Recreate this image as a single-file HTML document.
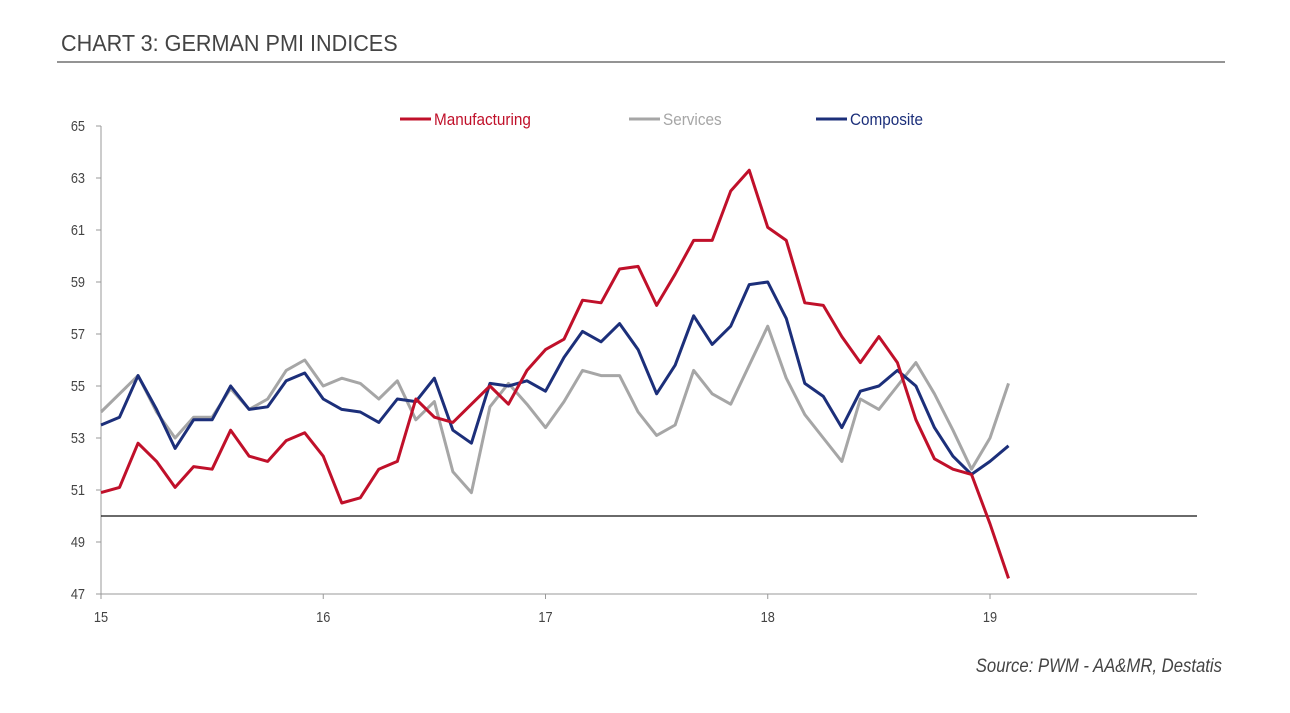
<!DOCTYPE html>
<html><head><meta charset="utf-8"><style>
body{margin:0;background:#fff;width:1290px;height:708px;overflow:hidden;font-family:"Liberation Sans",sans-serif}
svg text{font-family:"Liberation Sans",sans-serif}
</style></head><body>
<svg id="c" width="1290" height="708">
<text x="61" y="51" font-size="23" fill="#444" transform="translate(61,0) scale(0.94,1) translate(-61,0)">CHART 3: GERMAN PMI INDICES</text>
<line x1="57" y1="62" x2="1225" y2="62" stroke="#555" stroke-width="1.2"/>
<text x="1222" y="672" font-size="19" font-style="italic" fill="#444" text-anchor="end" transform="translate(1222,0) scale(0.88,1) translate(-1222,0)">Source: PWM - AA&amp;MR, Destatis</text>
</svg>
<script>
const years=["15","16","17","18","19"];
const yTicks=[47,49,51,53,55,57,59,61,63,65];
const manufacturing=[50.9,51.1,52.8,52.1,51.1,51.9,51.8,53.3,52.3,52.1,52.9,53.2,52.3,50.5,50.7,51.8,52.1,54.5,53.8,53.6,54.3,55.0,54.3,55.6,56.4,56.8,58.3,58.2,59.5,59.6,58.1,59.3,60.6,60.6,62.5,63.3,61.1,60.6,58.2,58.1,56.9,55.9,56.9,55.9,53.7,52.2,51.8,51.6,49.7,47.6];
const services=[54.0,54.7,55.4,54.0,53.0,53.8,53.8,54.9,54.1,54.5,55.6,56.0,55.0,55.3,55.1,54.5,55.2,53.7,54.4,51.7,50.9,54.2,55.1,54.3,53.4,54.4,55.6,55.4,55.4,54.0,53.1,53.5,55.6,54.7,54.3,55.8,57.3,55.3,53.9,53.0,52.1,54.5,54.1,55.0,55.9,54.7,53.3,51.8,53.0,55.1];
const composite=[53.5,53.8,55.4,54.1,52.6,53.7,53.7,55.0,54.1,54.2,55.2,55.5,54.5,54.1,54.0,53.6,54.5,54.4,55.3,53.3,52.8,55.1,55.0,55.2,54.8,56.1,57.1,56.7,57.4,56.4,54.7,55.8,57.7,56.6,57.3,58.9,59.0,57.6,55.1,54.6,53.4,54.8,55.0,55.6,55.0,53.4,52.3,51.6,52.1,52.7];
const NS="http://www.w3.org/2000/svg";
const svg=document.getElementById('c');
const X0=101,YR=222.25;
const xm=i=>X0+i*YR/12;
const y=v=>126+(65-v)*26;
function mk(t,a){const e=document.createElementNS(NS,t);for(const k in a)e.setAttribute(k,a[k]);svg.appendChild(e);return e;}
let e=mk('line',{x1:X0,y1:126,x2:X0,y2:594,stroke:'#999','stroke-width':1});


e=mk('line',{x1:X0,y1:594,x2:1197,y2:594,stroke:'#999','stroke-width':1});


yTicks.forEach(v=>{
 const t=mk('line',{x1:X0-5,y1:y(v),x2:X0,y2:y(v),stroke:'#999'});
 
 
 const l=mk('text',{x:85,y:y(v)+5,'font-size':15,fill:'#444','text-anchor':'end'});l.textContent=v;
 l.setAttribute('transform','translate(85,0) scale(0.85,1) translate(-85,0)');
 
 
});
years.forEach((s,i)=>{
 const xx=X0+i*YR;
 const t=mk('line',{x1:xx,y1:594,x2:xx,y2:599,stroke:'#999'});
 
 
 const l=mk('text',{x:xx,y:622,'font-size':15,fill:'#444','text-anchor':'middle'});l.textContent=s;
 l.setAttribute('transform',`translate(${xx},0) scale(0.85,1) translate(${-xx},0)`);
 
 
});
e=mk('line',{x1:X0,y1:y(50),x2:1197,y2:y(50),stroke:'#111','stroke-width':1.2});


function series(d,col,name){
 const p=mk('polyline',{points:d.map((v,i)=>xm(i)+','+y(v)).join(' '),fill:'none',stroke:col,'stroke-width':3,'stroke-linejoin':'round'});
 
 
}
series(services,'#a6a6a6','services-line');
series(composite,'#1c2f7a','composite-line');
series(manufacturing,'#c0102a','manufacturing-line');
const leg=[['Manufacturing','#c0102a',400],['Services','#a6a6a6',629],['Composite','#1c2f7a',816]];
leg.forEach(([n,c,x])=>{
 const g=mk('line',{x1:x,y1:119,x2:x+31,y2:119,stroke:c,'stroke-width':3});
 
 
 const t=mk('text',{x:x+34,y:125,'font-size':17,fill:c});t.textContent=n;
 t.setAttribute('transform',`translate(${x+34},0) scale(0.9,1) translate(${-(x+34)},0)`);
 
 
});
</script>
</body></html>
